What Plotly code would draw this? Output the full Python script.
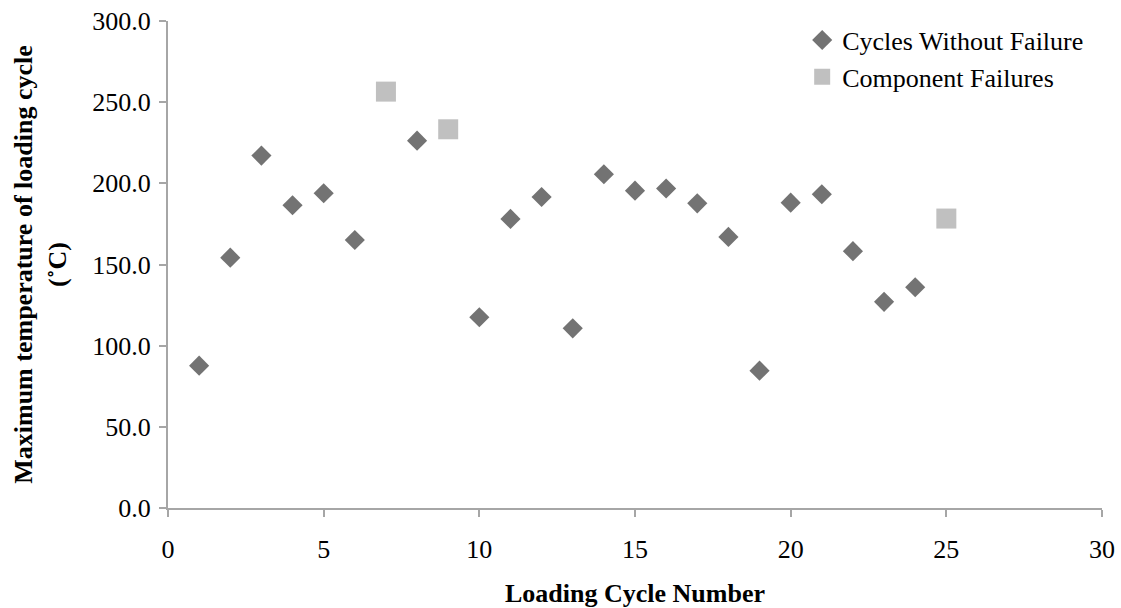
import plotly.graph_objects as go

# Loading cycles that completed without a failure
ok_cycle = [1, 2, 3, 4, 5, 6, 8, 10, 11, 12, 13, 14, 15, 16, 17, 18, 19, 20, 21, 22, 23, 24]
ok_temp = [87.7, 154.2, 217.1, 186.5, 193.9, 165.1, 226.3, 117.5, 178.1, 191.6, 110.7,
           205.6, 195.5, 196.8, 187.7, 167.0, 84.6, 188.1, 193.3, 158.2, 127.0, 136.0]

# Loading cycles that ended in a component failure
fail_cycle = [7, 9, 25]
fail_temp = [256.5, 233.3, 178.3]

y_ticks = [0, 50, 100, 150, 200, 250, 300]
x_ticks = [0, 5, 10, 15, 20, 25, 30]

FONT = "Liberation Serif, Times New Roman, serif"
AXIS = "#a6a6a6"

fig = go.Figure()
fig.add_trace(go.Scatter(
    x=ok_cycle, y=ok_temp, mode="markers", name="Cycles Without Failure",
    marker=dict(symbol="diamond", size=15.5, color="#737373", line=dict(width=0)),
))
fig.add_trace(go.Scatter(
    x=fail_cycle, y=fail_temp, mode="markers", name="Component Failures",
    marker=dict(symbol="square", size=20, color="#c0c0c0", line=dict(width=0)),
))

fig.update_layout(
    width=1121, height=608,
    margin=dict(l=168, r=19, t=21, b=100),
    paper_bgcolor="white", plot_bgcolor="white",
    font=dict(family=FONT, size=26, color="black"),
    showlegend=True,
    legend=dict(
        x=0.679, y=1.009, xanchor="left", yanchor="top",
        bgcolor="rgba(0,0,0,0)", font=dict(family=FONT, size=26),
        itemwidth=30, tracegroupgap=0,
    ),
    xaxis=dict(
        range=[0, 30], tickvals=x_ticks, ticktext=[str(v) for v in x_ticks],
        showgrid=False, zeroline=False, showline=True, linecolor=AXIS, linewidth=2,
        ticks="outside", ticklen=7, tickwidth=2, tickcolor=AXIS,
        ticklabelstandoff=10, automargin=False,
        title=dict(text="<b>Loading Cycle Number</b>", font=dict(size=26), standoff=21),
    ),
    yaxis=dict(
        range=[0, 300], tickvals=y_ticks, tickformat=".1f",
        showgrid=False, zeroline=False, showline=True, linecolor=AXIS, linewidth=2,
        ticks="outside", ticklen=7, tickwidth=2, tickcolor=AXIS,
        ticklabelstandoff=3, automargin=False,
        title=dict(text="<b>Maximum temperature of loading cycle<br>(˚C)</b>",
                   font=dict(size=26), standoff=18),
    ),
)

fig.write_html("out.html")
